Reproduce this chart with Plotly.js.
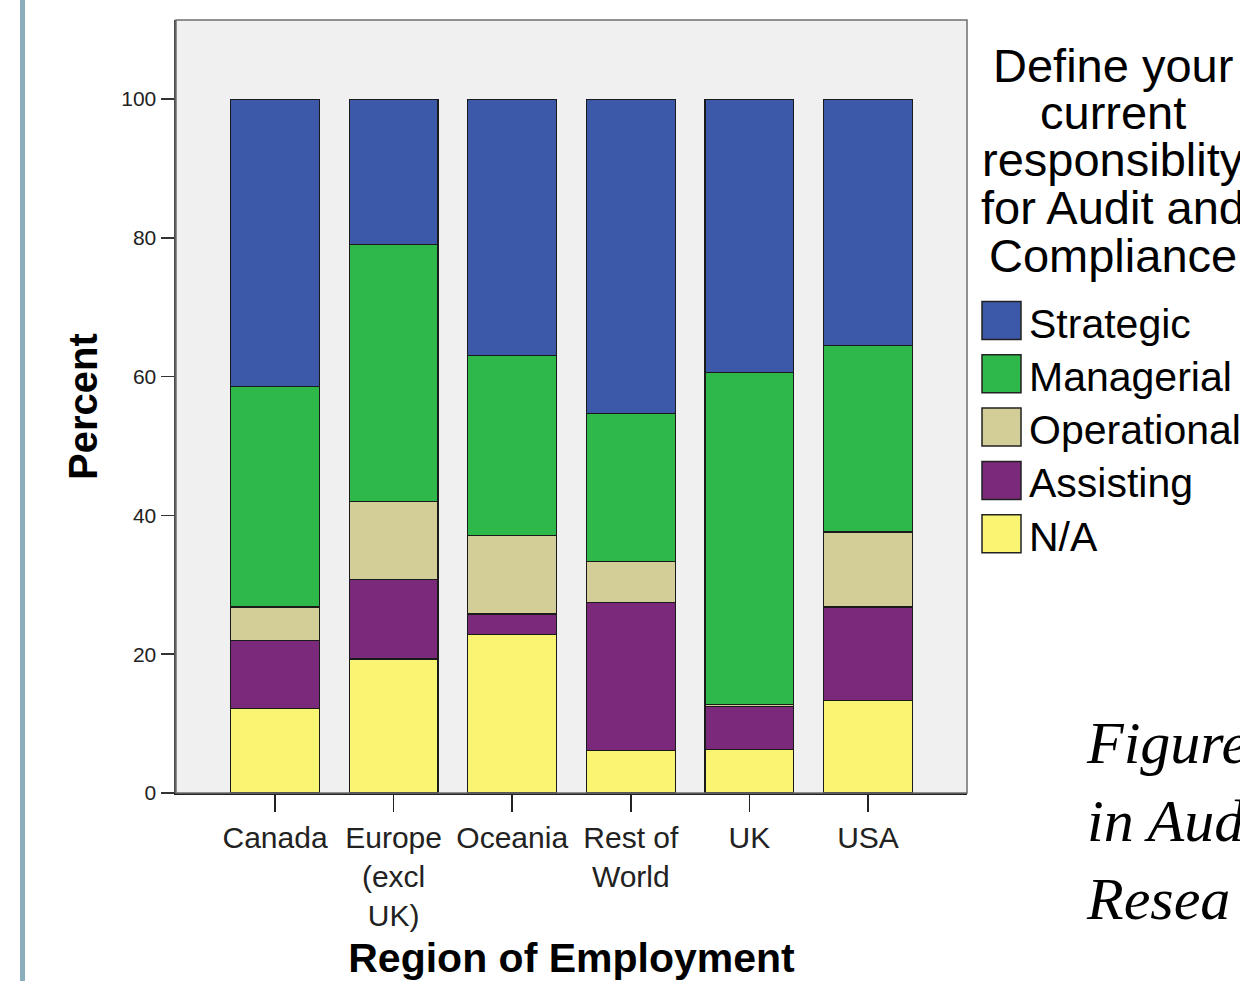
<!DOCTYPE html>
<html>
<head>
<meta charset="utf-8">
<script src="https://cdn.plot.ly/plotly-3.0.1.min.js"></script>
<style>
  html, body { margin: 0; padding: 0; background: #ffffff; }
  #chart { width: 1240px; height: 981px; }
</style>
</head>
<body>
<div id="chart"></div>
<script>
// ---- data ----
const categories = ["Canada", "Europe (excl UK)", "Oceania", "Rest of World", "UK", "USA"];
const tickLabels = ["Canada", "Europe<br>(excl<br>UK)", "Oceania", "Rest of<br>World", "UK", "USA"];
const seriesNames = ["Strategic", "Managerial", "Operational", "Assisting", "N/A"];
const seriesColors = ["#3c58a9", "#2fb84a", "#d3ce98", "#7b2a7b", "#f9f472"];
const strategic   = [41.4, 20.9, 37.0, 45.3, 39.4, 35.5];
const managerial  = [31.8, 37.1, 25.9, 21.3, 47.8, 26.9];
const operational = [4.8, 11.2, 11.3, 6.0, 0.3, 10.8];
const assisting   = [9.8, 11.5, 2.9, 21.3, 6.2, 13.5];
const notApplicable = [12.2, 19.3, 22.9, 6.1, 6.3, 13.3];
const yTicks = [0, 20, 40, 60, 80, 100];
const legendTitleLines = ["Define your", "current", "responsiblity", "for Audit and", "Compliance"];
const captionLines = ["Figure", "in Aud", "Resea"];

const seriesValues = [strategic, managerial, operational, assisting, notApplicable];

// ---- layout geometry (pixels) ----
const W = 1240, H = 981;
const M = { l: 176, r: 273, t: 20, b: 188 };
const PW = W - M.l - M.r, PH = H - M.t - M.b;
const px = x => (x - M.l) / PW;
const py = y => (H - M.b - y) / PH;

// stack bottom-up: N/A, Assisting, Operational, Managerial, Strategic
const traces = [];
for (let i = seriesNames.length - 1; i >= 0; i--) {
  traces.push({
    type: "bar",
    name: seriesNames[i],
    x: categories,
    y: seriesValues[i],
    width: 0.75,
    marker: { color: seriesColors[i], line: { color: "#1a1a1a", width: 1.2 } },
    showlegend: false,
    hoverinfo: "none"
  });
}

const shapes = [
  // plot frame
  { type: "rect", xref: "paper", yref: "paper", x0: 0, x1: 1, y0: 0, y1: 1,
    line: { color: "#6e6e6e", width: 1.5 }, layer: "above" },
  // left decorative bar of the slide
  { type: "line", xref: "paper", yref: "paper", x0: px(22.5), x1: px(22.5), y0: py(0), y1: py(H),
    line: { color: "#8aaebc", width: 5 } }
];
const annotations = [];

// custom legend
const rowY0 = 320.5, rowStep = 53.3;
seriesNames.forEach((name, i) => {
  const cy = rowY0 + i * rowStep;
  shapes.push({ type: "rect", xref: "paper", yref: "paper",
    x0: px(982), x1: px(1021), y0: py(cy + 19), y1: py(cy - 19),
    fillcolor: seriesColors[i], line: { color: "#222222", width: 1.5 } });
  annotations.push({ xref: "paper", yref: "paper", x: px(1027), y: py(cy + 3),
    xanchor: "left", yanchor: "middle", showarrow: false, text: name,
    font: { family: "Liberation Sans, Arial, sans-serif", size: 41, color: "#000" } });
});
const titleY = [65, 112.5, 160, 207.5, 255];
legendTitleLines.forEach((t, i) => {
  annotations.push({ xref: "paper", yref: "paper", x: px(1113), y: py(titleY[i]),
    xanchor: "center", yanchor: "middle", showarrow: false, text: t,
    font: { family: "Liberation Sans, Arial, sans-serif", size: 47, color: "#000" } });
});
// caption text at bottom right (cut by the page edge)
annotations.push({ xref: "paper", yref: "paper", x: px(1084), y: py(708),
  xanchor: "left", yanchor: "top", align: "left", showarrow: false,
  text: captionLines.join("<br>"),
  font: { family: "Liberation Serif, Times New Roman, serif", size: 60, color: "#000", style: "italic" } });

const layout = {
  width: W, height: H,
  margin: M,
  paper_bgcolor: "#ffffff",
  plot_bgcolor: "#f0f0f0",
  barmode: "stack",
  showlegend: false,
  font: { family: "Liberation Sans, Arial, sans-serif", color: "#222" },
  xaxis: {
    type: "category",
    range: [-0.835, 5.835],
    tickmode: "array", tickvals: categories, ticktext: tickLabels,
    ticks: "outside", ticklen: 17, tickwidth: 1.5, tickcolor: "#222",
    tickfont: { size: 30, color: "#222" },
    showline: true, linecolor: "#222", linewidth: 1.5,
    showgrid: false, zeroline: false, fixedrange: true,
    title: { text: "<b>Region of Employment</b>", standoff: 14,
      font: { size: 41, color: "#000" } }
  },
  yaxis: {
    range: [0, 111.4],
    tickmode: "array", tickvals: yTicks,
    ticks: "outside", ticklen: 13, tickwidth: 1.5, tickcolor: "#333",
    tickfont: { size: 21, color: "#222" },
    showline: true, linecolor: "#4a4a4a", linewidth: 2.5,
    showgrid: false, zeroline: false, fixedrange: true,
    title: { text: "<b>Percent</b>", standoff: 12,
      font: { size: 40, color: "#000" } }
  },
  shapes: shapes,
  annotations: annotations
};

Plotly.newPlot("chart", traces, layout, { staticPlot: true, displayModeBar: false });
</script>
</body>
</html>
